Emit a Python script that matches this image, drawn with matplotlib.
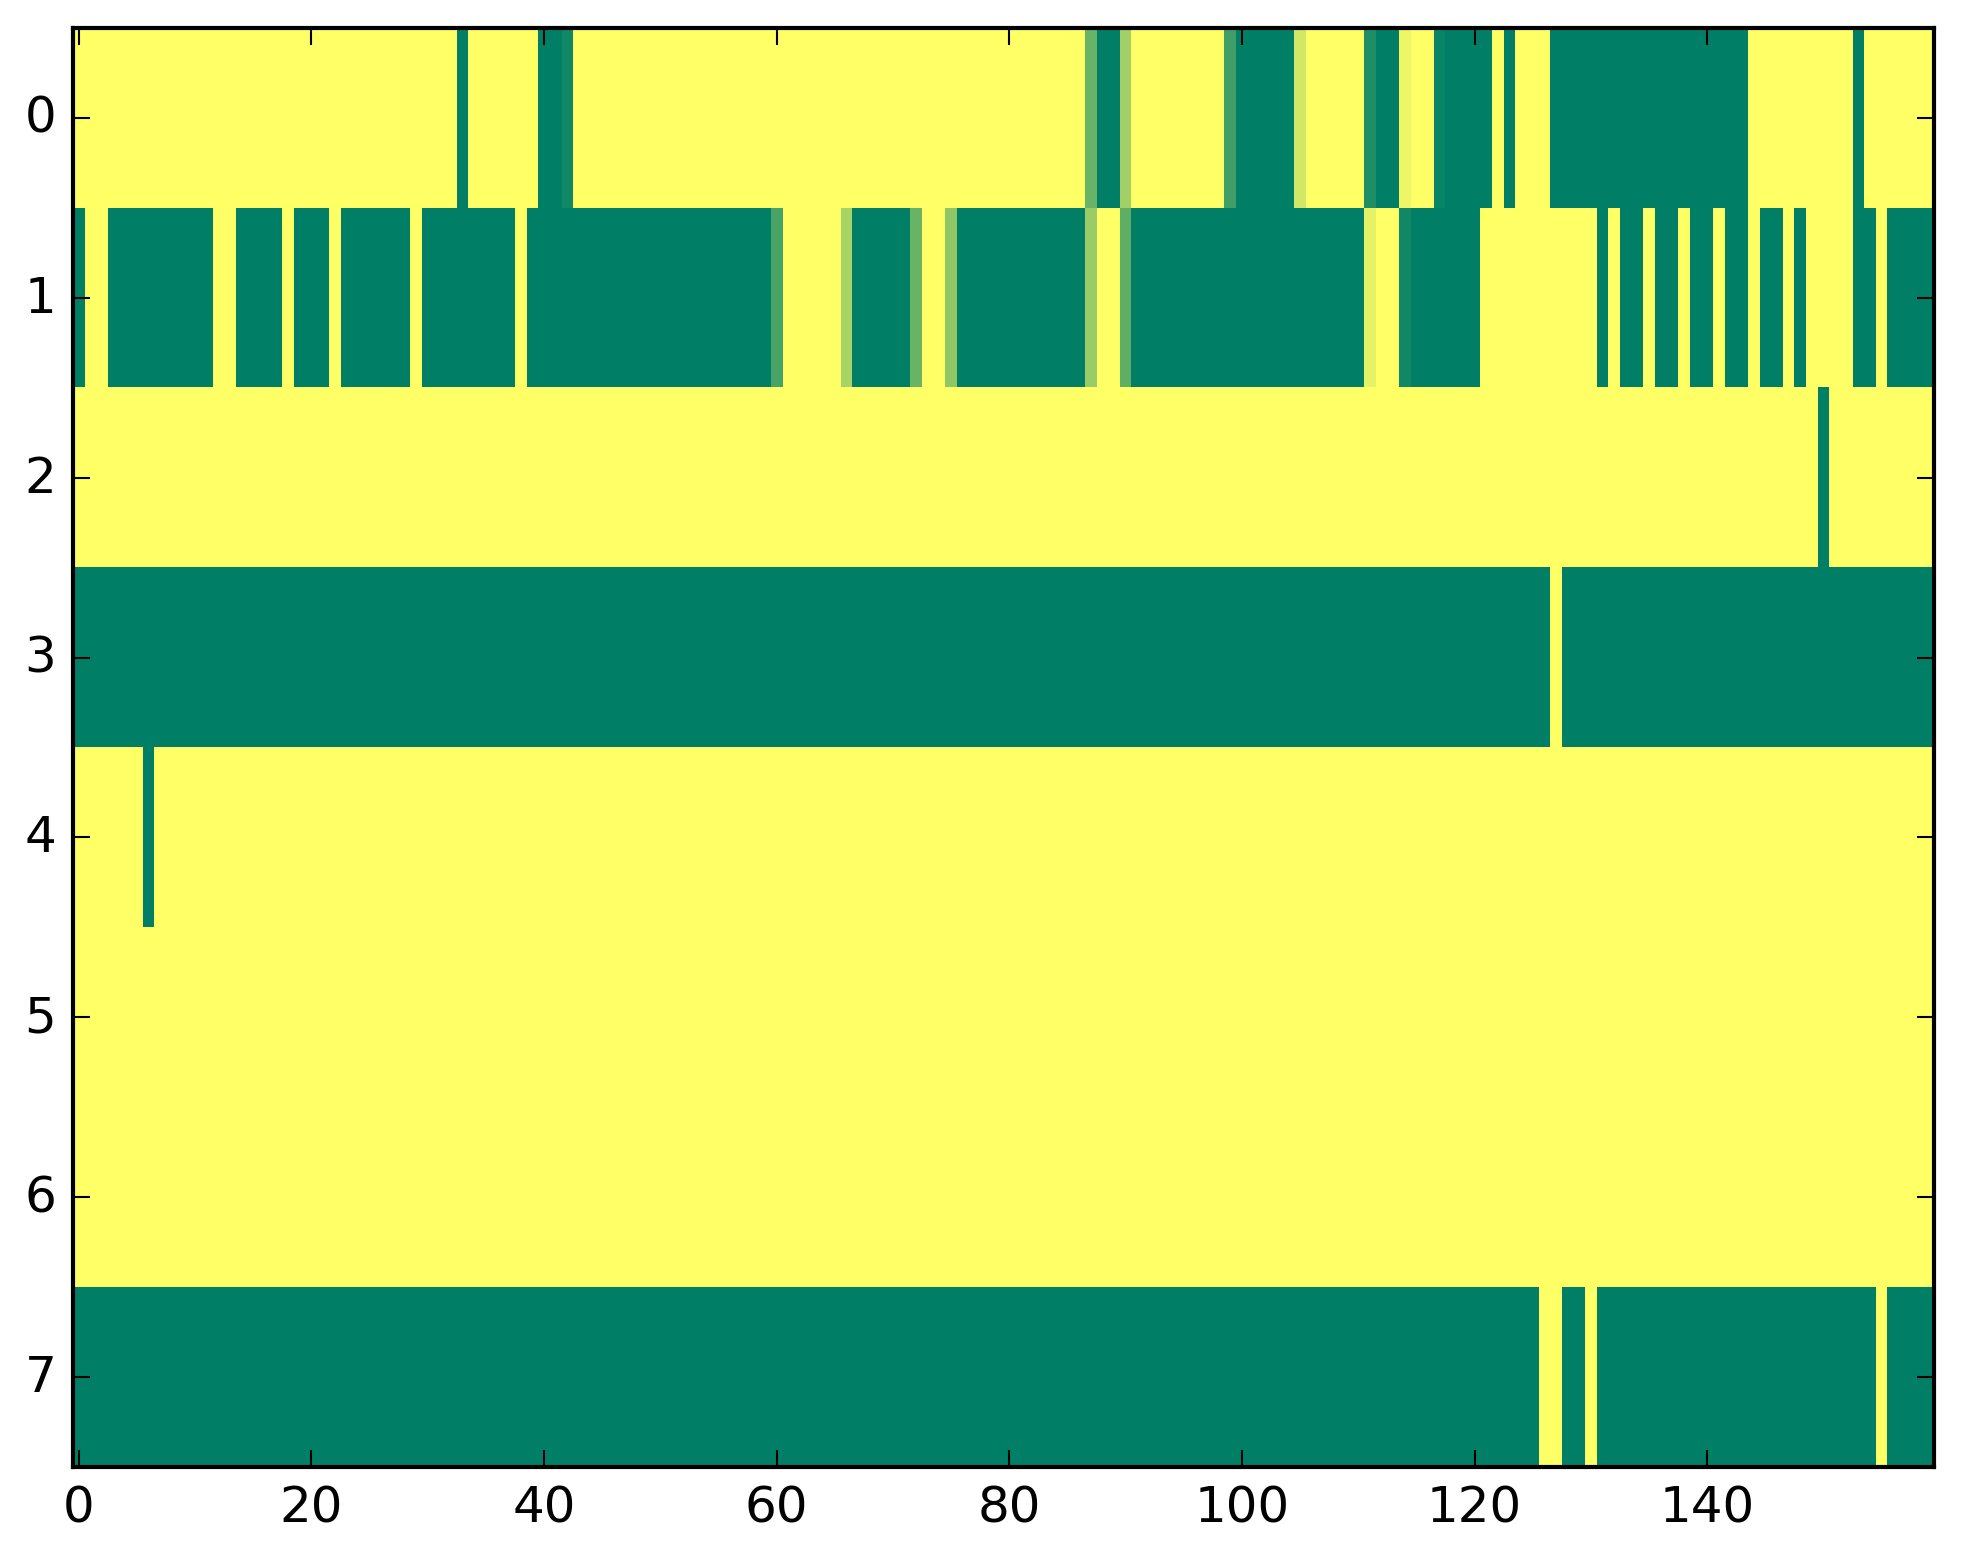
"""Heatmap of an 8 x 160 matrix drawn with imshow (summer_r, classic style)."""

import matplotlib

matplotlib.use("Agg")
import matplotlib.pyplot as plt
import numpy as np


# each row is stored as runs of (value, number of columns)
ROW0_RUNS = [
    (0, 33), (1, 1), (0, 6), (1, 2), (0.93, 1), (0, 44), (0.59, 1), (1, 2), (0.37, 1),
    (0, 8), (0.75, 1), (1, 5), (0.18, 1), (0, 5), (0.88, 1), (1, 2), (0.07, 1), (0, 2),
    (0.96, 1), (1, 4), (0, 1), (1, 1), (0, 3), (1, 17), (0, 9), (1, 1), (0, 6),
]
ROW1_RUNS = [
    (1, 1), (0, 2), (1, 9), (0, 2), (1, 4), (0, 1), (1, 3), (0, 1), (1, 6), (0, 1),
    (1, 8), (0, 1), (1, 21), (0.72, 1), (0, 5), (0.34, 1), (1, 5), (0.59, 1), (0, 2),
    (0.44, 1), (1, 11), (0.4, 1), (0, 2), (0.63, 1), (1, 20), (0.1, 1), (0, 2), (0.93, 1),
    (1, 6), (0, 10), (1, 1), (0, 1), (1, 2), (0, 1), (1, 2), (0, 1), (1, 2), (0, 1),
    (1, 2), (0, 1), (1, 2), (0, 1), (1, 1), (0, 4), (1, 2), (0, 1), (1, 4),
]
ROW2_RUNS = [(0, 150), (1, 1), (0, 9)]
ROW3_RUNS = [(1, 127), (0, 1), (1, 32)]
ROW4_RUNS = [(0, 6), (1, 1), (0, 153)]
ROW5_RUNS = [(0, 160)]
ROW6_RUNS = [(0, 160)]
ROW7_RUNS = [(1, 126), (0, 2), (1, 2), (0, 1), (1, 24), (0, 1), (1, 4)]

ALL_RUNS = [ROW0_RUNS, ROW1_RUNS, ROW2_RUNS, ROW3_RUNS, ROW4_RUNS, ROW5_RUNS, ROW6_RUNS, ROW7_RUNS]


def expand_runs(runs: list) -> np.ndarray:
    """Turn (value, count) runs into one row of values."""

    values = [value for value, _ in runs]
    counts = [count for _, count in runs]
    return np.repeat(np.array(values, dtype=float), counts)


def main() -> None:
    matrix = np.vstack([expand_runs(runs) for runs in ALL_RUNS])

    plt.style.use("classic")
    fig = plt.figure(figsize=(1963 / 300, 1564 / 300))
    fig.subplots_adjust(left=73 / 1963, right=1934 / 1963, top=1 - 29 / 1564, bottom=1 - 1468 / 1564)
    ax = fig.add_subplot(111)
    ax.imshow(matrix, aspect="auto", cmap="summer_r", vmin=0, vmax=1, interpolation="nearest")
    ax.set_xticks(np.arange(0, 160, 20))
    ax.set_yticks(np.arange(0, 8))
    fig.savefig("out.png", dpi=300)
    plt.close(fig)


if __name__ == "__main__":
    main()
